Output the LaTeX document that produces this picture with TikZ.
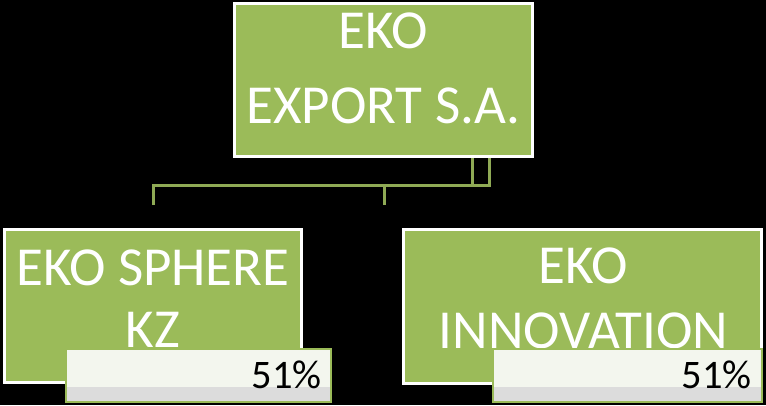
\documentclass[tikz,border=0pt]{standalone}
\usepackage{fontspec}
\setmainfont{Carlito}
\usetikzlibrary{positioning}

\definecolor{ekogreen}{HTML}{9BBB59}
\definecolor{ekoline}{HTML}{8FAA55}
\definecolor{sharelight}{HTML}{F3F6EE}
\definecolor{sharegrey}{HTML}{DCDCDC}

\tikzset{
  unitbox/.style={draw=white, line width=3pt, fill=ekogreen, inner sep=0pt},
  unittext/.style={text=white, align=center, inner sep=0pt, anchor=base},
  sharebox/.style={draw=ekogreen, line width=2pt, fill=sharelight, inner sep=0pt,
    path picture={\fill [sharegrey] (path picture bounding box.south west) rectangle ([yshift=15pt]path picture bounding box.south east);}},
  sharetext/.style={font=\fontsize{40.5}{48}\selectfont, inner sep=0pt, anchor=base east},
  link/.style={draw=ekoline, line width=3pt}
}

\begin{document}
\begin{tikzpicture}[x=1pt, y=-1pt]
      \fill [black] (0,0) rectangle (766,405);
      \useasboundingbox (0,0) rectangle (766,405);

      \coordinate (busL) at (153,185);
      \coordinate (busC) at (384,185);
      \coordinate (busM) at (472,185);
      \coordinate (busR) at (489,185);
      \coordinate (stubL) at (153,205);
      \coordinate (stubC) at (384,205);

      \node [unitbox, minimum width=298pt, minimum height=153pt] (parent) at (383.5,80) {};
      \node [unitbox, minimum width=297pt, minimum height=153pt] (sphere) at (153,306) {};
      \node [unitbox, minimum width=358pt, minimum height=154pt] (innov) at (582.5,306.5) {};

      % connectors
      \draw [link] (parent.south -| busM) -- (busM);
      \draw [link] (parent.south -| busR) -- (busR) -- (busL) -- (stubL);
      \draw [link] (busC) -- (stubC);

      \node [unittext, font=\fontsize{55}{75}\selectfont] (parentname) at (383.5,123) {EKO\\EXPORT S.A.};
      \node [unittext, font=\fontsize{55}{62}\selectfont] (spherename) at (153,347) {EKO SPHERE\\KZ};
      \node [unittext, font=\fontsize{55}{65}\selectfont] (innovname) at (583.5,348) {EKO\\INNOVATION};

      \node [sharebox, minimum width=265pt, minimum height=53pt] (sphereshare) at (198.5,375.5) {};
      \node [sharebox, minimum width=269pt, minimum height=53pt] (innovshare) at (627.5,375.5) {};
      \node [sharetext] (spherepct) at (322,388) {51\%};
      \node [sharetext] (innovpct) at (752,388) {51\%};

      \end{tikzpicture}
\end{document}
